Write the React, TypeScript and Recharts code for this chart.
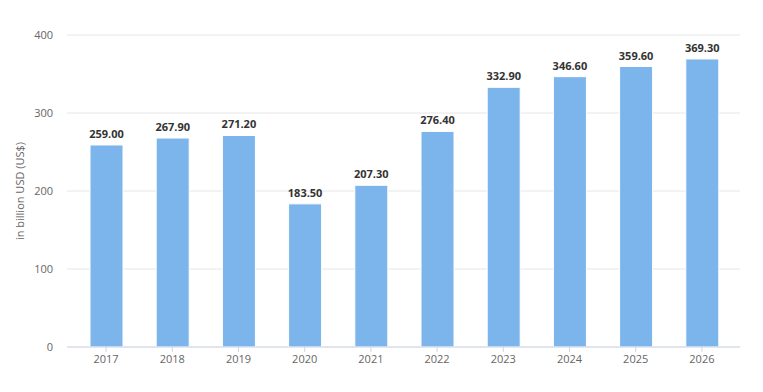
import React from "react"
import { BarChart, Bar, XAxis, YAxis, CartesianGrid, LabelList } from "recharts"

const years = ["2017", "2018", "2019", "2020", "2021", "2022", "2023", "2024", "2025", "2026"]
const revenue = [259.0, 267.9, 271.2, 183.5, 207.3, 276.4, 332.9, 346.6, 359.6, 369.3]
const yTicks = [0, 100, 200, 300, 400]

const data = years.map((year, i) => ({ year, value: revenue[i] }))

const font = "'Open Sans', 'Noto Sans', sans-serif"

export default function App() {
  return (
    <div style={{ position: "absolute", left: 0, top: 0, width: 763, height: 392, background: "#fff", fontFamily: font }}>
      <BarChart
        width={763}
        height={392}
        data={data}
        margin={{ top: 35, right: 23, left: 0, bottom: 15 }}
      >
        <CartesianGrid vertical={false} stroke="#e6e6e6" />
        <XAxis
          dataKey="year"
          height={30}
          padding={{ left: 6, right: 5 }}
          axisLine={{ stroke: "#ccd6eb" }}
          tickLine={{ stroke: "#ccd6eb" }}
          tickSize={5}
          tickMargin={3}
          tick={{ fill: "#666666", fontSize: 11, fontFamily: font }}
        />
        <YAxis
          width={67}
          domain={[0, 400]}
          ticks={yTicks}
          axisLine={false}
          tickLine={false}
          tickMargin={8}
          tick={{ fill: "#666666", fontSize: 11, fontFamily: font }}
          label={{
            value: "in billion USD (US$)",
            angle: -90,
            position: "center",
            dx: -13,
            style: { fill: "#666666", fontSize: 11, fontFamily: font },
          }}
        />
        <Bar dataKey="value" fill="#7cb5ec" stroke="#ffffff" strokeWidth={1} barSize={33} isAnimationActive={false}>
          <LabelList
            dataKey="value"
            position="top"
            offset={7}
            formatter={(v: number) => Number(v).toFixed(2)}
            style={{ fill: "#333333", fontSize: 11, fontWeight: 700, fontFamily: font }}
          />
        </Bar>
      </BarChart>
    </div>
  )
}
